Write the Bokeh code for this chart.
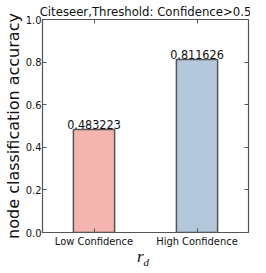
from bokeh.plotting import figure
from bokeh.models import (FactorRange, Range1d, FixedTicker, CategoricalAxis, LinearAxis,
                          LabelSet, ColumnDataSource, Div)
from bokeh.layouts import column
from bokeh.core.properties import value
from bokeh.embed import file_html
from bokeh.resources import INLINE

categories = ["Low Confidence", "High Confidence"]
accuracy = [0.483223, 0.811626]
value_labels = ["0.483223", "0.811626"]
bar_colors = ["#f4b4b0", "#b4c8dc"]
y_ticks = [0.0, 0.2, 0.4, 0.6, 0.8, 1.0]
y_tick_labels = ["0.0", "0.2", "0.4", "0.6", "0.8", "1.0"]
title_text = "Citeseer,Threshold: Confidence>0.5"
y_label = "node classification accuracy"
x_label_main = "r"
x_label_sub = "d"

NARROW = "'DejaVu Sans Condensed', 'Liberation Sans Narrow', 'Roboto Condensed', 'DejaVu Sans', sans-serif"
EDGE = "#555555"
INK = "#111111"

src = ColumnDataSource(dict(cat=categories, acc=accuracy, lab=value_labels, col=bar_colors))

p = figure(x_range=FactorRange(*categories), y_range=Range1d(0, 1),
           width=250, height=250, output_backend="svg", toolbar_location=None,
           min_border_left=2, min_border_right=2, min_border_top=2, min_border_bottom=1)

p.vbar(x="cat", top="acc", width=0.4, source=src, fill_color="col",
       line_color=EDGE, line_width=1.5)

p.add_layout(LabelSet(x="cat", y="acc", text="lab", source=src, text_align="center",
                      text_baseline="bottom", y_offset=1, text_font_size=value("12.5px"),
                      text_font=value(NARROW), text_color=INK))

p.title.text = title_text
p.title.align = "center"
p.title.text_font = NARROW
p.title.text_font_size = "13px"
p.title.text_font_style = "normal"
p.title.text_color = INK
p.title.standoff = 2

p.grid.visible = False
p.outline_line_color = EDGE
p.outline_line_width = 1.2

for ax in p.axis:
    ax.major_tick_in = 4
    ax.major_tick_out = 0
    ax.minor_tick_line_color = None
    ax.axis_line_color = EDGE
    ax.major_tick_line_color = EDGE
    ax.major_label_text_font = NARROW
    ax.major_label_text_color = INK

p.yaxis.ticker = FixedTicker(ticks=y_ticks)
p.yaxis.major_label_overrides = {t: s for t, s in zip(y_ticks, y_tick_labels)}
p.yaxis.major_label_text_font_size = "11px"
p.yaxis.major_label_standoff = 1
p.yaxis.axis_label = y_label
p.yaxis.axis_label_text_font = "DejaVu Sans"
p.yaxis.axis_label_text_font_size = "16px"
p.yaxis.axis_label_text_font_style = "normal"
p.yaxis.axis_label_standoff = 0
p.yaxis.axis_label_text_color = INK

p.xaxis.major_label_text_font_size = "11px"
p.xaxis.major_label_standoff = 2
p.xaxis.major_label_orientation = "horizontal"

right = LinearAxis(ticker=FixedTicker(ticks=y_ticks), major_label_text_color=None,
                   major_tick_in=4, major_tick_out=0, minor_tick_line_color=None,
                   axis_line_color=EDGE, major_tick_line_color=EDGE, major_label_standoff=0)
p.add_layout(right, "right")
top = CategoricalAxis(major_label_text_color=None, major_tick_in=4, major_tick_out=0,
                      axis_line_color=EDGE, major_tick_line_color=EDGE, major_label_standoff=0)
p.add_layout(top, "above")

xlabel = Div(
    text=(f"<div style=\"width:250px; box-sizing:border-box; text-align:center; padding-left:36px; "
          f"font-family:'Liberation Serif', serif; font-style:italic; font-size:17px; "
          f"line-height:14px; color:{INK};\">"
          f"{x_label_main}<sub style=\"font-size:11px; line-height:0;\">{x_label_sub}</sub></div>"),
    width=250, height=7, margin=(0, 0, 0, 0))

layout = column(p, xlabel, spacing=0)

open("out.html", "w").write(file_html(layout, INLINE))
